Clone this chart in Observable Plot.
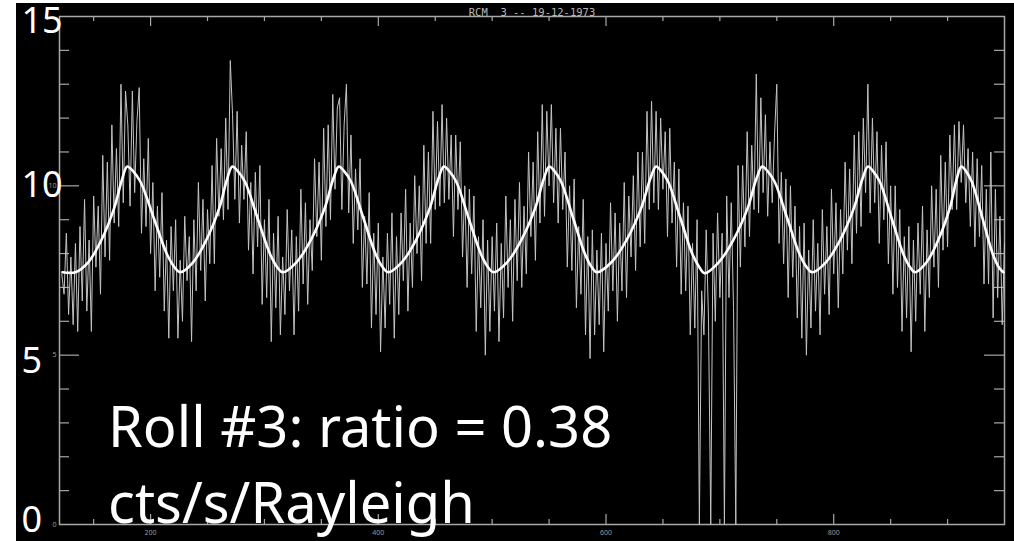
<!DOCTYPE html>
<html>
<head>
<meta charset="utf-8">
<script src="https://cdn.jsdelivr.net/npm/d3@7"></script>
<script src="https://cdn.jsdelivr.net/npm/@observablehq/plot@0.6"></script>
<style>
html,body{margin:0;padding:0;background:#fff;width:1014px;height:541px;overflow:hidden;position:relative}
#bg{position:absolute;left:16px;top:3px;width:998px;height:538px;background:#000}
#chart{position:absolute;left:0;top:0}
#note{position:absolute;left:108px;top:387px;color:#fff;font-family:"Noto Sans",sans-serif;font-size:56px;line-height:76px;white-space:nowrap}
svg text{white-space:pre}
</style>
</head>
<body>
<div id="bg"></div>
<div id="chart"></div>
<div id="note"><div></div><div></div></div>
<script>
// ---- data ----
const title = "RCM  3 -- 19-12-1973";
const noteLines = ["Roll #3: ratio = 0.38", "cts/s/Rayleigh"];
const xDomain = [120, 950];
const yDomain = [0, 15];
const xMajorTicks = [200, 400, 600, 800];
const xMinorTicks = [150, 250, 300, 350, 450, 500, 550, 650, 700, 750, 850, 900];
const yMajorTicks = [5, 10];
const yMinorTicks = [1, 2, 3, 4, 6, 7, 8, 9, 11, 12, 13, 14];
const yTickLabels = [0, 5, 10, 15];

// measured counts, one sample every 2 units starting at 122
const sampleStart = 122, sampleStep = 2;
const countValues = [
  7.4, 6.8, 8.6, 6.2, 7.9, 5.9, 8.3,
  5.7, 8.8, 6.6, 9.6, 6.3, 8.4, 5.7, 9.7, 7.6, 9.4, 6.8, 10.9, 7.9, 10.7, 7.8, 11.8, 8.9, 11.1, 8.8, 13.0, 9.5, 12.8,
  11.8, 9.4, 12.8, 9.8, 11.9, 12.9, 8.6, 10.8, 8.8, 11.4, 8.0, 10.1, 6.9, 9.4, 7.3, 9.8, 6.3, 8.4, 5.5, 8.8, 6.9, 9.0, 5.5, 7.8,
  6.0, 9.1, 7.2, 8.5, 5.4, 9.0, 6.9, 10.1, 7.5, 9.6, 6.6, 9.3, 7.7, 10.6, 7.7, 11.4, 9.1, 11.1, 9.0, 12.0, 9.3, 13.7,
  12.1, 9.6, 12.2, 8.9, 11.2, 9.6, 11.6, 8.1, 10.1, 7.4, 10.4, 8.2, 10.6, 6.5, 9.0, 6.7, 9.6, 5.4, 8.6, 6.4, 9.1, 5.6, 7.9,
  6.2, 9.3, 6.9, 8.7, 5.6, 8.5, 6.3, 9.9, 7.1, 9.5, 6.5, 9.0, 7.5, 10.8, 8.5, 10.7, 7.8, 11.7, 8.8, 11.8, 9.0, 12.7, 9.9, 12.3,
  12.6, 9.3, 11.8, 13.0, 9.2, 11.5, 8.3, 10.5, 8.7, 10.8, 7.0, 9.1, 7.1, 9.8, 5.8, 8.6, 6.2, 8.9, 5.1, 7.9, 5.8, 8.6,
  6.5, 9.2, 5.5, 8.5, 6.2, 9.2, 7.2, 9.9, 6.3, 8.9, 7.0, 10.3, 8.0, 10.0, 7.2, 11.2, 8.3, 11.0, 8.3, 12.2, 9.3, 11.9, 9.4, 12.4,
  9.5, 12.0, 9.6, 11.5, 8.5, 11.5, 9.3, 11.3, 7.9, 10.0, 7.0, 9.9, 7.4, 9.7, 5.7, 8.5, 6.4, 9.0, 5.0, 8.4, 5.7, 8.5,
  6.3, 8.9, 5.4, 8.3, 6.1, 9.7, 7.0, 9.0, 6.0, 9.6, 7.2, 10.1, 7.0, 9.4, 7.4, 11.0, 8.5, 10.7, 7.8, 11.6, 8.9, 12.4, 9.1, 12.2, 10.0,
  12.4, 9.5, 11.7, 8.9, 11.7, 9.3, 11.0, 7.6, 10.0, 7.5, 10.2, 6.4, 8.8, 6.8, 9.6, 5.6, 8.5, 4.9, 8.7, 5.6, 8.1,
  5.9, 8.6, 5.1, 8.3, 6.3, 9.5, 6.9, 9.2, 6.0, 8.9, 6.9, 10.1, 6.7, 9.7, 7.9, 10.3, 7.5, 11.0, 8.2, 11.0, 8.3, 12.2, 9.3, 12.5, 9.5, 12.2,
  9.3, 12.0, 9.9, 11.6, 8.5, 11.7, 8.9, 10.7, 7.6, 10.5, 6.8, 9.5, 6.9, 9.4, 5.6, 8.3, 5.8, 9.0, 0, 6.9, 5.6,
  8.7, 6.1, 0, 8.6, 6.0, 9.2, 6.7, 8.6, 0, 9.7, 6.7, 9.5, 6.4, 0, 10.6, 7.6, 10.6, 8.2, 11.6, 8.5, 11.2, 9.3, 13.3, 9.2, 12.6,
  9.8, 12.1, 9.1, 11.3, 9.5, 11.5, 13.0, 8.3, 10.4, 7.7, 10.2, 6.7, 10.0, 7.3, 9.4, 6.1, 8.8, 5.5, 8.9, 5.0, 8.1, 5.8,
  9.0, 6.3, 8.3, 5.6, 9.3, 6.8, 8.8, 6.2, 9.9, 7.4, 9.5, 6.4, 9.3, 7.4, 10.7, 8.1, 10.5, 7.7, 11.5, 8.6, 11.6, 8.8, 12.0, 9.8, 13.0,
  9.2, 12.0, 9.5, 11.6, 8.3, 11.2, 9.0, 11.3, 7.7, 10.0, 6.8, 10.0, 7.0, 9.3, 5.7, 8.5, 6.1, 8.8, 5.1, 8.4,
  6.0, 8.9, 6.8, 9.4, 5.7, 8.7, 6.7, 10.0, 7.6, 9.9, 7.0, 10.9, 8.1, 10.7, 8.2, 11.5, 9.3, 11.8, 9.3, 11.9, 10.1,
  11.8, 9.5, 11.1, 8.8, 11.0, 8.2, 10.8, 8.5, 10.6, 7.1, 9.9, 7.1, 11.0, 6.1, 9.9, 6.7, 9.1, 5.9, 8.3
];

// fitted curve knots
const fitX = [
  122.6, 134,
  145.4, 156.8, 168.1, 175.0, 179.5, 184.2, 191.1, 202.8, 214.4, 221.4, 226,
  237.5, 248.9, 260.4, 267.2, 271.8, 276.2, 282.9, 293.9, 305.0, 311.6, 316,
  328.3, 340.7, 353.0, 360.4, 365.3, 369.6, 376.1, 386.9, 397.7, 404.2, 408.5,
  420.8, 433.1, 445.3, 452.7, 457.6, 461.9, 468.5, 479.3, 490.2, 496.7, 501,
  513.3, 525.6, 537.9, 545.3, 550.2, 554.4, 560.6, 571.1, 581.6, 587.8, 592,
  605, 618, 631, 638.8, 644, 648.3, 654.6, 665.3, 675.9, 682.3, 686.5,
  699.2, 711.8, 724.5, 732.0, 737.1, 741.5, 748.1, 759.1, 770.0, 776.6, 781,
  793.3, 805.6, 817.8, 825.2, 830.1, 834.2, 840.5, 850.8, 861.2, 867.4, 871.5,
  881.7, 891.8, 902.0, 908.0, 912.1, 915.8, 921.3, 930.6, 939.8, 945.3, 949
];
const fitY = [
  7.45, 7.45,
  7.75, 8.4, 9.35, 10.2, 10.57, 10.45, 10.12, 9.05, 7.98, 7.58, 7.45,
  7.75, 8.4, 9.35, 10.2, 10.57, 10.45, 10.12, 9.05, 7.98, 7.58, 7.45,
  7.75, 8.4, 9.35, 10.2, 10.57, 10.45, 10.12, 9.05, 7.98, 7.58, 7.45,
  7.75, 8.4, 9.35, 10.2, 10.57, 10.45, 10.12, 9.05, 7.98, 7.58, 7.45,
  7.75, 8.4, 9.35, 10.2, 10.57, 10.45, 10.12, 9.05, 7.98, 7.58, 7.45,
  7.75, 8.4, 9.35, 10.2, 10.57, 10.45, 10.12, 9.05, 7.98, 7.58, 7.42,
  7.75, 8.4, 9.35, 10.2, 10.57, 10.45, 10.12, 9.05, 7.98, 7.58, 7.45,
  7.75, 8.4, 9.35, 10.2, 10.57, 10.45, 10.12, 9.05, 7.98, 7.58, 7.45,
  7.75, 8.4, 9.35, 10.2, 10.57, 10.45, 10.12, 9.05, 7.98, 7.58, 7.45
];

// ---- build ----
const samples = countValues.map((v, i) => ({x: sampleStart + i * sampleStep, y: v}));
const fit = fitX.map((x, i) => ({x, y: fitY[i]}));

const W = 1014, H = 541, mL = 59, mR = 10, mT = 16, mB = 17;
const innerW = W - mL - mR, innerH = H - mT - mB;
const axisColor = "#a8a8a8";

const bigLabel = (values, dy) => Plot.text(values, {
  y: d => d, frameAnchor: "left", dx: -38, dy, textAnchor: "start", text: d => String(d),
  fontFamily: "Noto Sans", fontSize: 36, fill: "#ffffff"
});

const chart = Plot.plot({
  width: W, height: H,
  marginLeft: mL, marginRight: mR, marginTop: mT, marginBottom: mB,
  x: {domain: xDomain, axis: null},
  y: {domain: yDomain, axis: null},
  style: {background: "transparent", overflow: "visible"},
  marks: [
    Plot.frame({stroke: axisColor, strokeWidth: 1.5}),
    // inward ticks on all four sides
    Plot.tickY(yMinorTicks, {y: d => d, insetRight: innerW - 10, stroke: axisColor, strokeWidth: 1.2}),
    Plot.tickY(yMajorTicks, {y: d => d, insetRight: innerW - 20, stroke: axisColor, strokeWidth: 1.2}),
    Plot.tickY(yMinorTicks, {y: d => d, insetLeft: innerW - 10, stroke: axisColor, strokeWidth: 1.2}),
    Plot.tickY(yMajorTicks, {y: d => d, insetLeft: innerW - 20, stroke: axisColor, strokeWidth: 1.2}),
    Plot.tickX(xMinorTicks, {x: d => d, insetTop: innerH - 5, stroke: axisColor, strokeWidth: 1.2}),
    Plot.tickX(xMajorTicks, {x: d => d, insetTop: innerH - 10, stroke: axisColor, strokeWidth: 1.2}),
    Plot.tickX(xMinorTicks, {x: d => d, insetBottom: innerH - 5, stroke: axisColor, strokeWidth: 1.2}),
    Plot.tickX(xMajorTicks, {x: d => d, insetBottom: innerH - 10, stroke: axisColor, strokeWidth: 1.2}),
    // small original tick labels
    Plot.text(xMajorTicks, {x: d => d, frameAnchor: "bottom", dy: 10, text: d => String(d), fontSize: 7, fill: "#9a9a9a"}),
    Plot.text(yTickLabels.slice(0, 3), {y: d => d, frameAnchor: "left", dx: -3, textAnchor: "end", text: d => String(d), fontSize: 7, fill: "#9a9a9a"}),
    // title
    Plot.text([title], {frameAnchor: "top", dy: -8, text: d => d, fontFamily: "DejaVu Sans Mono", fontSize: 10.5, fill: "#b8b8b8"}),
    // data
    Plot.line(samples, {x: "x", y: "y", stroke: "#c4c4c4", strokeWidth: 1}),
    Plot.line(fit, {x: "x", y: "y", curve: "catmull-rom", stroke: "#ffffff", strokeWidth: 2.6}),
    // large y labels
    bigLabel([yTickLabels[3]], 5),
    bigLabel([yTickLabels[2]], 0),
    bigLabel([yTickLabels[1]], 6),
    bigLabel([yTickLabels[0]], -4)
  ]
});
document.getElementById("chart").appendChild(chart);
const note = document.getElementById("note").children;
note[0].textContent = noteLines[0];
note[1].textContent = noteLines[1];
</script>
</body>
</html>
